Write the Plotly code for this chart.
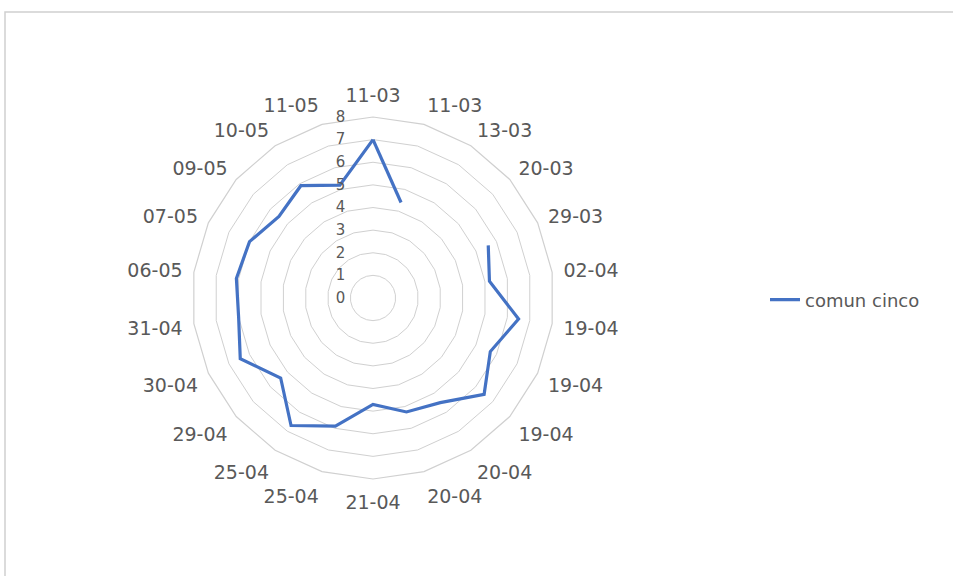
import plotly.graph_objects as go

# ---- data ----
categories = ["11-03", "11-03", "13-03", "20-03", "29-03", "02-04", "19-04", "19-04",
              "19-04", "20-04", "20-04", "21-04", "25-04", "25-04", "29-04", "30-04",
              "31-04", "06-05", "07-05", "09-05", "10-05", "11-05"]
values = [7.0, 4.4, None, None, 5.6, 5.2, 6.5, 5.7,
          6.5, 5.5, 5.25, 4.7, 5.9, 6.7, 5.4, 6.45,
          6.0, 6.1, 6.0, 5.5, 5.9, 5.2]
radial_ticks = [0, 1, 2, 3, 4, 5, 6, 7, 8]
series_name = "comun cinco"

ids = [str(i) for i in range(len(categories))]
# close the loop back to the first category, as the radar chart does
theta = ids + [ids[0]]
r = values + [values[0]]

grid = "#d0d0d0"
txt = "#595959"
font_family = "DejaVu Sans, Liberation Sans, Arial, sans-serif"

fig = go.Figure()
fig.add_trace(go.Scatterpolar(
    r=r, theta=theta, mode="lines", name=series_name,
    line=dict(color="#4472C4", width=3.2), connectgaps=False,
    showlegend=True,
))

W, H = 953, 576
cx, cy, rad = 373, 298, 181
fig.update_layout(
    width=W, height=H,
    margin=dict(l=0, r=0, t=0, b=0),
    paper_bgcolor="white", plot_bgcolor="white",
    font=dict(family=font_family, color=txt),
    showlegend=True,
    legend=dict(x=765 / W, y=1 - 300 / H, xanchor="left", yanchor="middle",
                font=dict(size=18, color=txt), bgcolor="rgba(0,0,0,0)"),
    polar=dict(
        domain=dict(x=[(cx - rad) / W, (cx + rad) / W],
                    y=[(H - cy - rad) / H, (H - cy + rad) / H]),
        bgcolor="white",
        gridshape="linear",
        angularaxis=dict(
            type="category", categoryorder="array", categoryarray=ids,
            tickmode="array", tickvals=ids, ticktext=categories,
            rotation=90, direction="clockwise",
            showgrid=False, showline=True, linecolor=grid, linewidth=1.2,
            ticks="outside", ticklen=7, tickcolor="rgba(0,0,0,0)",
            tickfont=dict(size=19, color=txt),
        ),
        radialaxis=dict(
            range=[0, 8], tickmode="array", tickvals=radial_ticks,
            angle=90, side="counterclockwise", tickangle=90,
            showline=False, showgrid=True, gridcolor=grid, gridwidth=1.2,
            ticks="outside", ticklen=22, tickcolor="rgba(0,0,0,0)",
            tickfont=dict(size=15, color=txt),
        ),
    ),
    shapes=[dict(type="rect", xref="paper", yref="paper",
                 x0=5 / W, x1=1.01, y0=-0.01, y1=1 - 12 / H,
                 line=dict(color=grid, width=1.5), fillcolor="rgba(0,0,0,0)")],
)

fig.write_html("out.html",
               config={"displayModeBar": False},
               post_script="document.body.style.margin='0';")
